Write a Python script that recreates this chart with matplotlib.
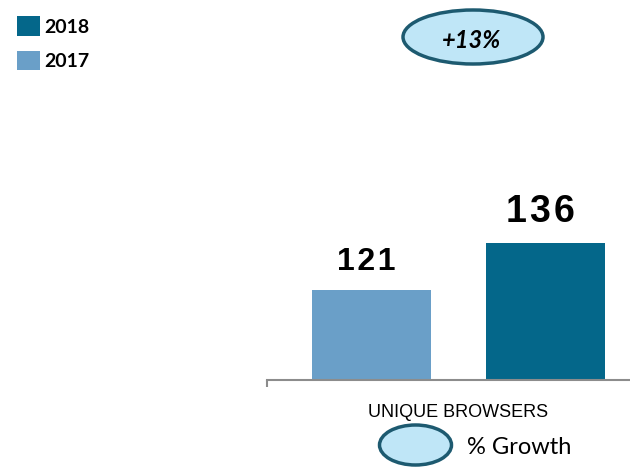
import matplotlib
matplotlib.use("Agg")
import matplotlib.pyplot as plt
from matplotlib.patches import Patch, Ellipse

# Data
years = ["2017", "2018"]
values = [121, 136]
category = "UNIQUE BROWSERS"
growth_label = "+13%"
colors = {"2017": "#6a9fc8", "2018": "#04678a"}
edge_dark = "#1d5a70"
ellipse_fill = "#bfe6f7"

fig = plt.figure(figsize=(6.3, 4.67), dpi=100)
ax = fig.add_axes([267 / 630, 87 / 467, 363 / 630, 280 / 467])

offsets = [-0.5, 0.5]
bar_w = 0.684
bars = ax.bar(offsets, values, width=bar_w,
              color=[colors[y] for y in years], zorder=2)

ax.set_xlim(-1.1006, 0.9856)
ymin = 92.3
ax.set_ylim(ymin, ymin + 280 / 3.133)

# value labels, slightly letter-spaced
sizes = [23, 27]
gaps = [28, 31]
for b, v, fs, g in zip(bars, values, sizes, gaps):
    ax.annotate("\u200a".join(str(v)),
                (b.get_x() + b.get_width() / 2 - 0.03, v),
                xytext=(0, g * 0.72), textcoords="offset points",
                ha="center", va="center", fontsize=fs, fontweight="bold",
                family=["Liberation Sans", "DejaVu Sans"], color="black")

for s in ["top", "right", "left"]:
    ax.spines[s].set_visible(False)
ax.spines["bottom"].set_color("#8c8c8c")
ax.spines["bottom"].set_linewidth(1.5)
ax.set_yticks([])
ax.set_xticks([0])
ax.set_xticklabels([category], family="Liberation Sans", fontsize=13)
ax.tick_params(axis="x", which="major", length=0, pad=17)
ax.set_xticks([-1.1006], minor=True)
ax.tick_params(axis="x", which="minor", length=5, width=1.5, color="#8c8c8c")

# year legend (top-left)
handles = [Patch(facecolor=colors["2018"], edgecolor="none", label="2018"),
           Patch(facecolor=colors["2017"], edgecolor="none", label="2017")]
fig.legend(handles=handles, loc="upper left", bbox_to_anchor=(17 / 630, 1 - 16 / 467),
           frameon=False, prop={"family": "Lato", "weight": "bold", "size": 14},
           handlelength=1.2, handleheight=1.2, handletextpad=0.22,
           labelspacing=0.75, borderaxespad=0, borderpad=0)

# growth bubble
top_ell = Ellipse((4.73, (467 - 37) / 100), 1.40, 0.54,
                  transform=fig.dpi_scale_trans, facecolor=ellipse_fill,
                  edgecolor=edge_dark, linewidth=2.5)
fig.patches.append(top_ell)
fig.text(472 / 630, 1 - 40 / 467, growth_label, ha="center", va="center",
         fontsize=17, fontweight="bold", style="italic", family="Lato")

# growth key (bottom)
key_ell = Ellipse((4.155, (467 - 445) / 100), 0.72, 0.40,
                  transform=fig.dpi_scale_trans, facecolor=ellipse_fill,
                  edgecolor=edge_dark, linewidth=2.5)
fig.patches.append(key_ell)
fig.text(467 / 630, 1 - 447 / 467, "% Growth", ha="left", va="center",
         fontsize=17, family="Lato")

fig.savefig("out.png", dpi=100)
